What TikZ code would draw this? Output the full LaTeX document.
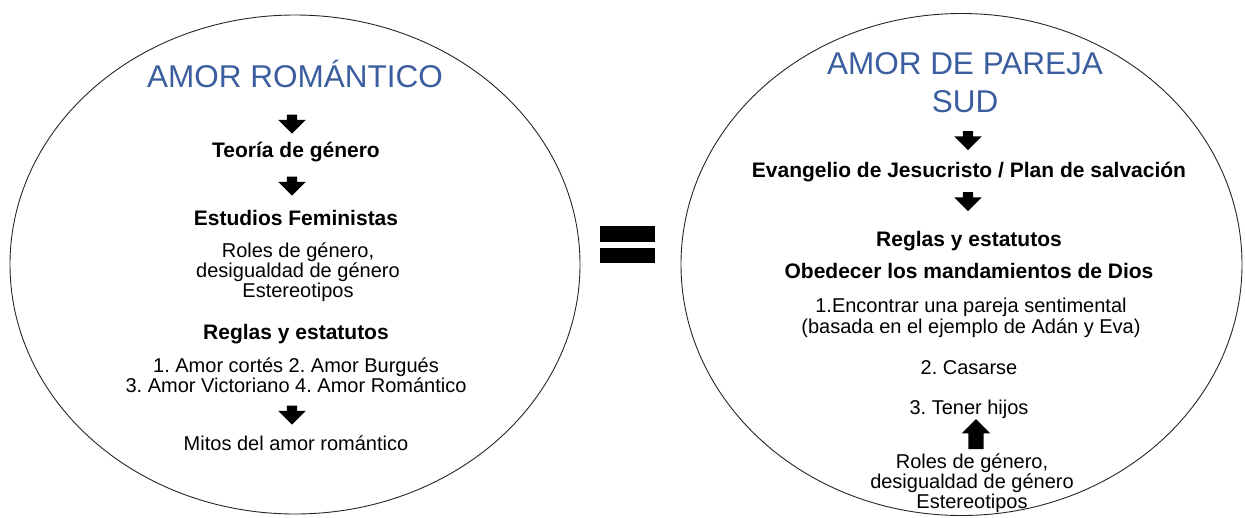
\documentclass[tikz,border=0pt]{standalone}
\usepackage{fontspec}
\setmainfont{Liberation Sans}
\usepackage{xcolor}
\usetikzlibrary{shapes.arrows}
\definecolor{titleblue}{RGB}{59,94,158}
\frenchspacing

\tikzset{
  heading/.style={font=\fontsize{31.5}{38}\selectfont, text=titleblue, align=center},
  boldline/.style={font=\fontsize{21}{21}\selectfont\bfseries, anchor=base},
  bodyline/.style={font=\fontsize{20}{20}\selectfont, anchor=base},
  bodyblock/.style={font=\fontsize{20}{20}\selectfont, align=center},
  downarrow/.style={single arrow, fill=black, inner xsep=0pt, inner ysep=5pt,
    single arrow head extend=8.5pt, minimum height=19pt, rotate=-90},
  uparrow/.style={single arrow, fill=black, inner xsep=0pt, inner ysep=7.5pt,
    single arrow head extend=6.5pt, minimum height=30pt, rotate=90}
}

\begin{document}
\begin{tikzpicture}[x=1pt, y=-1pt]
    \useasboundingbox (0,0) rectangle (1245,517);
    \def\ovalL{(295,264.5) ellipse [x radius=285, y radius=249.5]}
    \def\ovalR{(961.5,264.5) ellipse [x radius=280.5, y radius=251]}
    \draw [line width=0.9pt, black!85] \ovalL \ovalR;

    % left side
    \node [heading] (ttlL) at (295,74) {AMOR ROMÁNTICO};
    \node [downarrow] (arL1) at (292,121.5) {};
    \node [boldline] (teoria) at (296,157) {Teoría de género};
    \node [downarrow] (arL2) at (292,183.5) {};
    \node [boldline] (estud) at (296,225) {Estudios Feministas};
    \node [bodyblock] (rolesL) at (298,272) {Roles de género,\\ desigualdad de género\\ Estereotipos};
    \node [boldline] (reglasL) at (296,339) {Reglas y estatutos};
    \node [bodyblock] (amores) at (296,375.5) {1. Amor cortés 2. Amor Burgués\\ 3. Amor Victoriano 4. Amor Romántico};
    \node [downarrow] (arL3) at (292,412.5) {};
    \node [bodyline] (mitos) at (296,450) {Mitos del amor romántico};

    % equal sign
    \fill (600,226) rectangle (655,242);
    \fill (600,248) rectangle (655,263);

    % right side
    \node [heading] (ttlR) at (965,83) {AMOR DE PAREJA\\ SUD};
    \node [downarrow] (arR1) at (968,138) {};
    \node [boldline] (evang) at (969,177) {Evangelio de Jesucristo / Plan de salvación};
    \node [downarrow] (arR2) at (968,199) {};
    \node [boldline] (reglasR) at (969,246) {Reglas y estatutos};
    \node [boldline] (obed) at (969,278) {Obedecer los mandamientos de Dios};
    \node [bodyblock, font=\fontsize{20}{21}\selectfont] (pareja) at (971,317.5) {1.Encontrar una pareja sentimental\\ (basada en el ejemplo de Adán y Eva)};
    \node [bodyline] (casar) at (969,374) {2. Casarse};
    \node [bodyline] (hijos) at (969,414) {3. Tener hijos};
    \node [uparrow] (arR3) at (976,438) {};
    \node [bodyblock] (rolesR) at (972,483) {Roles de género,\\ desigualdad de género\\ Estereotipos};
\end{tikzpicture}
\end{document}
